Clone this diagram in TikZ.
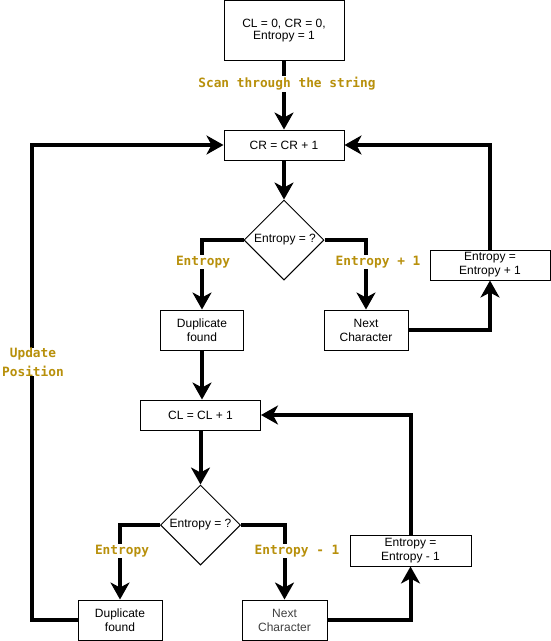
\documentclass[tikz,border=0pt]{standalone}
\usepackage{fontspec}
\setmainfont{Liberation Sans}
\newfontfamily\lblfont{DejaVu Sans Mono}
\usetikzlibrary{arrows.meta,shapes.geometric}
\definecolor{lblgold}{HTML}{B8900B}
\tikzset{
  box/.style={draw=black, line width=1pt, fill=white, align=center, inner sep=0pt,
    font=\fontsize{12}{14}\selectfont},
  dia/.style={draw=black, line width=1pt, fill=white, diamond, aspect=1, inner sep=0pt,
    minimum width=80pt, minimum height=80pt, font=\fontsize{12}{14}\selectfont},
  conn/.style={line width=4pt, -{Stealth[length=17pt,width=19pt,inset=5pt]}},
  lbl/.style={fill=white, text=lblgold, inner sep=1pt, align=center,
    font=\lblfont\bfseries\fontsize{12.8}{19}\selectfont}
}
\begin{document}
\begin{tikzpicture}[x=1pt,y=-1pt]
\useasboundingbox (0,0) rectangle (551,641);
% nodes
\node[box, minimum width=120pt, minimum height=60pt] (init) at (284,30.5) {\raisebox{-2pt}{\begin{tabular}{@{}c@{}}CL = 0, CR = 0,\\[-2pt]Entropy = 1\end{tabular}}};
\node[box, minimum width=120pt, minimum height=30pt] (cr) at (284,145) {CR = CR + 1};
\node[dia] (d1) at (284,240) {};
\node[font=\fontsize{12}{14}\selectfont] (d1t) at (285,240) {Entropy = ?};
\node[box, minimum width=83pt, minimum height=40pt] (dup1) at (202,330) {Duplicate\\found};
\node[box, minimum width=84pt, minimum height=40pt] (nc1) at (366,330) {Next\\Character};
\node[box, minimum width=120pt, minimum height=30pt] (e1) at (490,265) {Entropy =\\Entropy + 1};
\node[box, minimum width=120pt, minimum height=30pt] (cl) at (200.5,415) {CL = CL + 1};
\node[dia] (d2) at (200.5,525) {};
\node[font=\fontsize{12}{14}\selectfont] (d2t) at (200.5,525) {Entropy = ?};
\node[box, minimum width=84pt, minimum height=40pt] (dup2) at (120,620) {Duplicate\\found};
\node[box, minimum width=85pt, minimum height=40pt, text=black!75] (nc2) at (284.5,620) {Next\\Character};
\node[box, minimum width=121pt, minimum height=31pt] (e2) at (410.5,550.5) {Entropy =\\Entropy - 1};
\coordinate (lp) at (32,145);
% connectors
\draw[conn] (init.south) -- (cr.north);
\draw[conn] (cr.south) -- (d1.north);
\draw[conn] (d1.west) -| (dup1.north);
\draw[conn] (d1.east) -| (nc1.north);
\draw[conn] (nc1.east) -| (e1.south);
\draw[conn] (e1.north) |- (cr.east);
\draw[conn] (dup1.south) -- (dup1.south |- cl.north);
\draw[conn] (cl.south) -- (d2.north);
\draw[conn] (d2.west) -| (dup2.north);
\draw[conn] (d2.east) -| (nc2.north);
\draw[conn] (nc2.east) -| (e2.south);
\draw[conn] (e2.north) |- (cl.east);
\draw[conn] (dup2.west) -| (lp) -- (cr.west);
% labels
\node[lbl] (l1) at (287,84) {Scan through the string};
\node[lbl] (l2) at (203,262) {Entropy};
\node[lbl] (l3) at (378,262) {Entropy + 1};
\node[lbl] (l4) at (122,551) {Entropy};
\node[lbl] (l5) at (297,551) {Entropy - 1};
\node[lbl, inner sep=0pt] (l6) at (33,362) {Update\\Position};
\end{tikzpicture}
\end{document}
